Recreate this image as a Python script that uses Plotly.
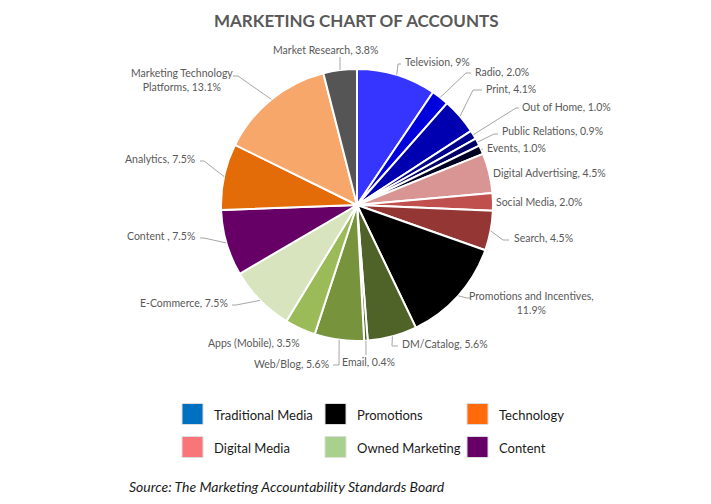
import math
import plotly.graph_objects as go

# ---- data ----
categories = ["Television", "Radio", "Print", "Out of Home", "Public Relations", "Events",
              "Digital Advertising", "Social Media", "Search", "Promotions and Incentives",
              "DM/Catalog", "Email", "Web/Blog", "Apps (Mobile)", "E-Commerce", "Content ",
              "Analytics", "Marketing Technology Platforms", "Market Research"]
values = [9, 2.0, 4.1, 1.0, 0.9, 1.0, 4.5, 2.0, 4.5, 11.9, 5.6, 0.4, 5.6, 3.5, 7.5, 7.5, 7.5, 13.1, 3.8]
label_text = ["Television, 9%", "Radio, 2.0%", "Print, 4.1%", "Out of Home, 1.0%",
              "Public Relations, 0.9%", "Events, 1.0%", "Digital Advertising, 4.5%",
              "Social Media, 2.0%", "Search, 4.5%", "Promotions and Incentives,<br>11.9%",
              "DM/Catalog, 5.6%", "Email, 0.4%", "Web/Blog, 5.6%", "Apps (Mobile), 3.5%",
              "E-Commerce, 7.5%", "Content , 7.5%", "Analytics, 7.5%",
              "Marketing Technology<br>Platforms, 13.1%", "Market Research, 3.8%"]
legend_names = ["Traditional Media", "Promotions", "Technology",
                "Digital Media", "Owned Marketing", "Content"]

# ---- styles ----
slice_colors = ["#3535FF", "#0000DD", "#0000B0", "#00008E", "#000066", "#000022",
                "#D99594", "#C0504D", "#943634", "#000000",
                "#4F6228", "#4F6228", "#77933C", "#9BBB59", "#D7E4BD", "#660066",
                "#E36C09", "#F7A76A", "#555555"]
legend_colors = ["#0070C0", "#000000", "#FF6A0A", "#F8767A", "#A9D18E", "#660066"]

W, H = 711, 504
CX, CY, R = 357, 205, 136
FONT = "Lato"
TXT = "#595959"

def px(x):
    return x / W

def py(y):
    return 1 - y / H

# label placements (pixels): text x, text y, xanchor, leader points after slice edge
label_place = [
    (403, 62, "left", [(398, 64), (401, 64)]),
    (473, 72, "left", [(466, 73), (471, 73)]),
    (484, 89, "left", [(473, 90), (482, 90)]),
    (520, 107, "left", [(516, 108), (519, 108)]),
    (500, 131, "left", [(494, 134), (498, 134)]),
    (485, 148, "left", [(483, 149)]),
    (491, 173, "left", []),
    (494, 202, "left", []),
    (512, 238, "left", [(503, 240), (509, 240)]),
    (531, 303, "center", [(467, 298), (470, 298)]),
    (400, 344, "left", [(392, 346), (398, 346)]),
    (368, 362, "center", [(366, 355)]),
    (331, 364, "right", [(339, 365), (333, 365)]),
    (302, 343, "right", []),
    (230, 303, "right", [(236, 305), (232, 305)]),
    (197, 236, "right", [(204, 238), (200, 238)]),
    (197, 159, "right", [(204, 161), (200, 161)]),
    (182, 80, "center", [(238, 76), (233, 76)]),
    (325, 50, "center", [(340, 57)]),
]

fig = go.Figure()
fig.add_trace(go.Pie(
    labels=categories, values=values, sort=False, direction="clockwise", rotation=0,
    textinfo="none", hoverinfo="label+percent", showlegend=False,
    marker=dict(colors=slice_colors, line=dict(color="white", width=2)),
    domain=dict(x=[px(CX - R), px(CX + R)], y=[py(CY + R), py(CY - R)]),
))

total = sum(values)
shapes = []
annotations = []
cum = 0.0
for i, v in enumerate(values):
    mid = (cum + v / 2) / total * 2 * math.pi
    cum += v
    ex = CX + R * math.sin(mid)
    ey = CY - R * math.cos(mid)
    tx, ty, xa, pts = label_place[i]
    if pts:
        path = "M %.4f %.4f" % (px(ex), py(ey))
        for (lx, ly) in pts:
            path += " L %.4f %.4f" % (px(lx), py(ly))
        shapes.append(dict(type="path", path=path, xref="paper", yref="paper",
                           line=dict(color="#A6A6A6", width=1)))
    annotations.append(dict(x=px(tx), y=py(ty), xref="paper", yref="paper",
                            text=label_text[i], showarrow=False, xanchor=xa,
                            yanchor="middle", align="center",
                            font=dict(family=FONT, size=10.5, color=TXT)))

# title
annotations.append(dict(x=px(356), y=py(21), xref="paper", yref="paper",
                        text="<b>MARKETING CHART OF ACCOUNTS</b>", showarrow=False,
                        xanchor="center", yanchor="middle",
                        font=dict(family=FONT, size=17, color="#595959")))

# legend (3 columns x 2 rows)
col_x = [182, 325, 467]
row_y = [414, 447]
for k, name in enumerate(legend_names):
    c = k % 3
    r = k // 3
    x0 = col_x[c]
    yc = row_y[r]
    shapes.append(dict(type="rect", xref="paper", yref="paper",
                       x0=px(x0), x1=px(x0 + 21), y0=py(yc + 10.5), y1=py(yc - 10.5),
                       fillcolor=legend_colors[k], line=dict(color="#DDDDDD", width=1)))
    annotations.append(dict(x=px(x0 + 30), y=py(yc + 1), xref="paper", yref="paper",
                            text=name, showarrow=False, xanchor="left", yanchor="middle",
                            font=dict(family=FONT, size=13, color="#1A1A1A")))

# source
annotations.append(dict(x=px(127), y=py(486), xref="paper", yref="paper",
                        text="<i>Source: The Marketing Accountability Standards Board</i>",
                        showarrow=False, xanchor="left", yanchor="middle",
                        font=dict(family=FONT, size=14, color="#1A1A1A")))

fig.update_layout(
    width=W, height=H, margin=dict(l=0, r=0, t=0, b=0),
    paper_bgcolor="white", plot_bgcolor="white",
    shapes=shapes, annotations=annotations,
)
fig.write_html("out.html")
